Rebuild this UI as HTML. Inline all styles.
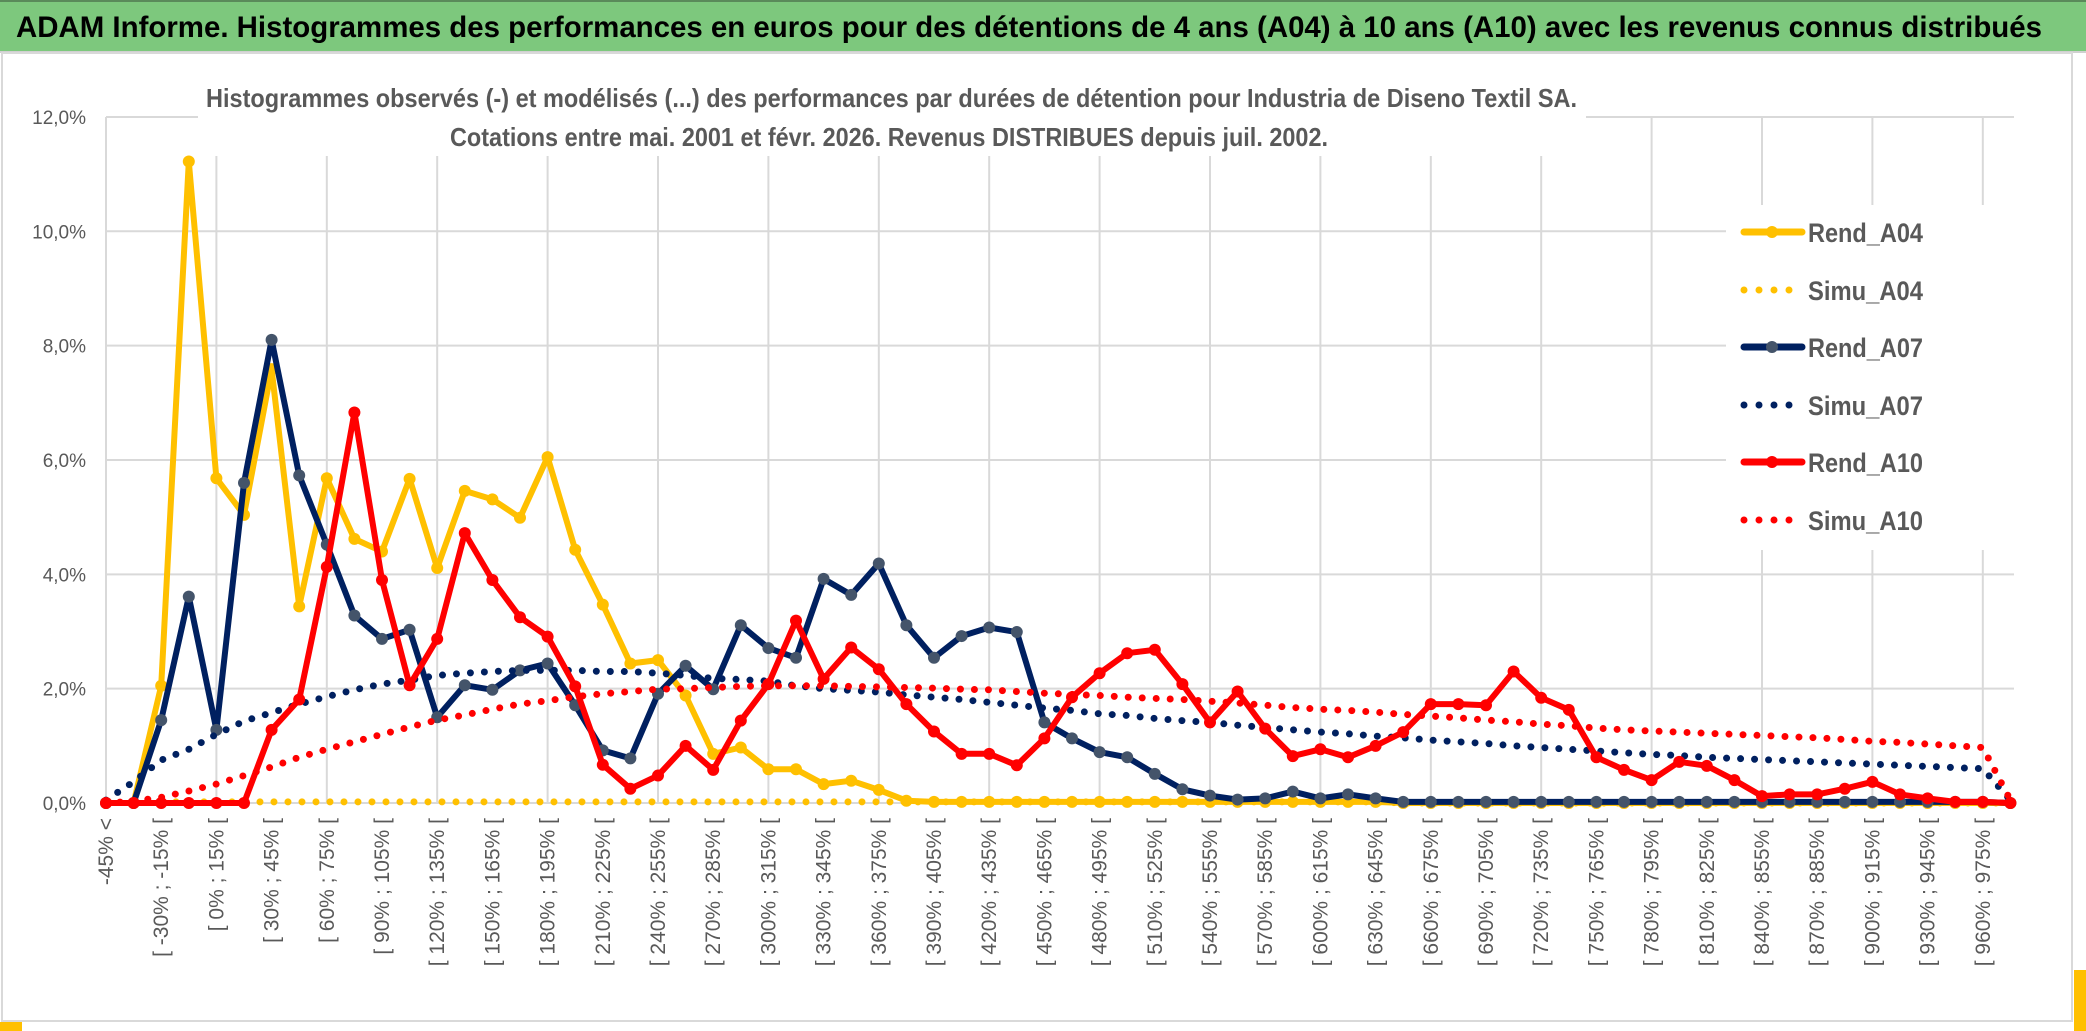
<!DOCTYPE html>
<html><head><meta charset="utf-8"><style>
html,body{margin:0;padding:0;background:#fff;width:2086px;height:1031px;overflow:hidden}
svg text{font-family:"Liberation Sans",sans-serif}
</style></head><body>
<svg id="chart" width="2086" height="1031" viewBox="0 0 2086 1031" xmlns="http://www.w3.org/2000/svg">
<rect x="0" y="0" width="2086" height="1031" fill="#fff"/>
<rect x="0" y="0" width="2086" height="51" fill="#7dc87d"/>
<rect x="0" y="0" width="2086" height="2" fill="#5a8a5a"/>
<line x1="0" y1="52" x2="2086" y2="52" stroke="#d0d0d0" stroke-width="2"/>
<rect x="2" y="53" width="2070" height="968" fill="none" stroke="#d9d9d9" stroke-width="2"/>
<rect x="0" y="1022" width="22" height="9" fill="#ffc000"/>
<rect x="2074" y="970" width="12" height="61" fill="#ffc000"/>
<text x="16" y="37" font-size="30" font-weight="bold" fill="#000" textLength="2026" lengthAdjust="spacingAndGlyphs">ADAM Informe. Histogrammes des performances en euros pour des détentions de 4 ans (A04) à 10 ans (A10) avec les revenus connus distribués</text>
<g id="grid"></g>
<rect x="198" y="78" width="1388" height="78" fill="#fff"/>
<text x="206" y="107" font-size="26" font-weight="bold" fill="#595959" textLength="1371" lengthAdjust="spacingAndGlyphs">Histogrammes observés (-) et modélisés (...) des performances par durées de détention pour Industria de Diseno Textil SA.</text>
<text x="450" y="146" font-size="26" font-weight="bold" fill="#595959" textLength="878" lengthAdjust="spacingAndGlyphs">Cotations entre mai. 2001 et févr. 2026. Revenus DISTRIBUES depuis juil. 2002.</text>
<g id="yaxis"></g>
<g id="xaxis"></g>
<g id="series"></g>
<g id="legend"></g>
</svg>
<script>
const yTicks = [0,2,4,6,8,10,12];
const yTickLabels = ["0,0%","2,0%","4,0%","6,0%","8,0%","10,0%","12,0%"];
const categories = ["-45% <"];
for (let b=-45;b<975;b+=15) categories.push("[ "+b+"% ; "+(b+15)+"% [");
categories.push("975% <");
const rendA04 = [0,0,2.05,11.22,5.68,5.04,7.59,3.44,5.68,4.62,4.4,5.67,4.11,5.46,5.31,4.99,6.05,4.43,3.47,2.44,2.5,1.88,0.86,0.97,0.59,0.59,0.33,0.39,0.23,0.04,0.02,0.02,0.02,0.02,0.02,0.02,0.02,0.02,0.02,0.02,0.02,0.02,0.02,0.02,0.02,0.02,0.02,0,0,0,0,0,0,0,0,0,0,0,0,0,0,0,0,0,0,0,0,0,0,0];
const simuA04 = [0,0.02,0.02,0.02,0.02,0.02,0.02,0.02,0.02,0.02,0.02,0.02,0.02,0.02,0.02,0.02,0.02,0.02,0.02,0.02,0.02,0.02,0.02,0.02,0.02,0.02,0.02,0.02,0.02,0.02,0.02,0.02,0.02,0.02,0.02,0.02,0.02,0.02,0.02,0.02,0.02,0.02,0.02,0.02,0.02,0.02,0.02,0,0,0,0,0,0,0,0,0,0,0,0,0,0,0,0,0,0,0,0,0,0,0];
const rendA07 = [0,0,1.45,3.61,1.28,5.6,8.1,5.73,4.52,3.28,2.87,3.03,1.5,2.06,1.98,2.32,2.44,1.71,0.92,0.78,1.91,2.4,1.99,3.11,2.71,2.54,3.92,3.64,4.19,3.11,2.54,2.92,3.07,2.99,1.41,1.13,0.89,0.8,0.51,0.24,0.13,0.06,0.08,0.2,0.08,0.15,0.08,0.02,0.02,0.02,0.02,0.02,0.02,0.02,0.02,0.02,0.02,0.02,0.02,0.02,0.02,0.02,0.02,0.02,0.02,0.02,0.02,0.02,0.02,0];
const simuA07 = [0.05,0.37,0.75,0.94,1.2,1.43,1.58,1.73,1.86,1.98,2.08,2.15,2.23,2.27,2.3,2.32,2.32,2.32,2.3,2.3,2.27,2.23,2.18,2.16,2.13,2.05,2.0,1.97,1.94,1.89,1.85,1.81,1.76,1.71,1.66,1.62,1.56,1.53,1.48,1.44,1.41,1.36,1.32,1.28,1.24,1.21,1.17,1.14,1.1,1.07,1.04,1.0,0.97,0.94,0.91,0.88,0.85,0.83,0.8,0.78,0.76,0.74,0.72,0.7,0.68,0.66,0.64,0.62,0.6,0.05];
const rendA10 = [0,0,0,0,0,0,1.28,1.81,4.13,6.83,3.9,2.06,2.87,4.72,3.9,3.25,2.91,2.04,0.67,0.25,0.48,1.0,0.58,1.44,2.08,3.19,2.17,2.72,2.34,1.73,1.25,0.86,0.86,0.66,1.13,1.85,2.27,2.62,2.68,2.08,1.41,1.95,1.3,0.82,0.94,0.8,1.0,1.24,1.73,1.73,1.71,2.3,1.84,1.63,0.8,0.58,0.4,0.72,0.65,0.4,0.12,0.15,0.15,0.25,0.37,0.15,0.08,0.02,0.02,0];
const simuA10 = [0,0.03,0.1,0.21,0.33,0.48,0.63,0.8,0.94,1.07,1.2,1.33,1.45,1.54,1.64,1.73,1.79,1.86,1.91,1.95,1.99,2.0,2.02,2.04,2.05,2.05,2.05,2.04,2.03,2.02,2.01,1.99,1.98,1.95,1.92,1.9,1.88,1.85,1.83,1.81,1.78,1.75,1.71,1.67,1.64,1.62,1.59,1.55,1.52,1.49,1.45,1.42,1.38,1.35,1.31,1.28,1.26,1.24,1.22,1.2,1.18,1.16,1.14,1.11,1.08,1.06,1.03,1.0,0.97,0.05];

const NS="http://www.w3.org/2000/svg";
const X0=106, DX=27.6, Y0=803, PY=57.17, XR=2014;
function xs(i){return X0+DX*i;}
function ys(v){return Y0-PY*v;}
function mk(tag,attrs,parent){const e=document.createElementNS(NS,tag);for(const k in attrs)e.setAttribute(k,attrs[k]);parent.appendChild(e);return e;}
const grid=document.getElementById('grid'), yaxis=document.getElementById('yaxis'), xaxis=document.getElementById('xaxis'), series=document.getElementById('series'), legend=document.getElementById('legend');

yTicks.forEach((t,k)=>{
  const l=mk('line',{x1:X0,x2:XR,y1:ys(t),y2:ys(t),stroke:'#d9d9d9','stroke-width':2},grid);
  
  
  const tx=mk('text',{x:86,y:ys(t)+7,'font-size':19,fill:'#595959','text-anchor':'end'},yaxis);
  tx.textContent=yTickLabels[k];
  
  
});
categories.forEach((c,i)=>{
  if(i%4===0){
    const l=mk('line',{x1:xs(i),x2:xs(i),y1:ys(12),y2:Y0,stroke:'#d9d9d9','stroke-width':2},grid);
    
    
  }
  if(i%2===0){
    const x=xs(i)+7, y=818;
    const tx=mk('text',{x:x,y:y,'font-size':21,fill:'#595959','text-anchor':'end',transform:'rotate(-90 '+x+' '+y+')'},xaxis);
    tx.textContent=c;
    
    
  }
});
function pts(arr){return arr.map((v,i)=>xs(i).toFixed(1)+','+ys(v).toFixed(1)).join(' ');}
function solid(arr,color,mcol,name){
  const g=mk('g',{},series);
  
  
  const p=mk('polyline',{points:pts(arr),fill:'none',stroke:color,'stroke-width':6,'stroke-linejoin':'round','stroke-linecap':'round'},g);
  
  
  arr.forEach((v,i)=>{
    const c=mk('circle',{cx:xs(i),cy:ys(v),r:6,fill:mcol},g);
    
    
  });
}
function dotted(arr,color,name){
  const p=mk('polyline',{points:pts(arr),fill:'none',stroke:color,'stroke-width':7,'stroke-linecap':'round','stroke-dasharray':'0 14'},series);
  
  
}
solid(rendA04,'#ffc000','#ffc000','rend-a04');
dotted(simuA04,'#ffc000','simu-a04');
solid(rendA07,'#002060','#44546a','rend-a07');
dotted(simuA07,'#002060','simu-a07');
solid(rendA10,'#ff0000','#ff0000','rend-a10');
dotted(simuA10,'#ff0000','simu-a10');

const lb=mk('rect',{x:1726,y:205,width:300,height:345,fill:'#fff'},legend);


const legNames=['Rend_A04','Simu_A04','Rend_A07','Simu_A07','Rend_A10','Simu_A10'];
const legColors=['#ffc000','#ffc000','#002060','#002060','#ff0000','#ff0000'];
const legMarker=['#ffc000',null,'#44546a',null,'#ff0000',null];
const legY=[232,290,347,405,462,520];
legNames.forEach((n,k)=>{
  const g=mk('g',{},legend);
  
  
  if(legMarker[k]){
    mk('line',{x1:1744,x2:1802,y1:legY[k],y2:legY[k],stroke:legColors[k],'stroke-width':7,'stroke-linecap':'round'},g);
    mk('circle',{cx:1772,cy:legY[k],r:6,fill:legMarker[k]},g);
  } else {
    mk('line',{x1:1744,x2:1800,y1:legY[k],y2:legY[k],stroke:legColors[k],'stroke-width':7,'stroke-linecap':'round','stroke-dasharray':'0 15'},g);
  }
  const t=mk('text',{x:1808,y:legY[k]+10,'font-size':27,'font-weight':'bold',fill:'#595959',textLength:115,lengthAdjust:'spacingAndGlyphs'},g);
  t.textContent=n;
});
</script>
</body></html>
